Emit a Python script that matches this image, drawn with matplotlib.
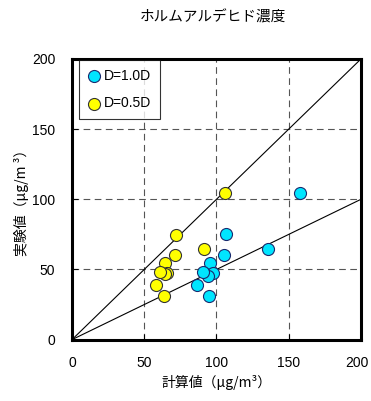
import numpy as np
import matplotlib
matplotlib.use("Agg")
import matplotlib.pyplot as plt
import matplotlib.transforms as mtransforms

plt.rcParams['font.family'] = ['Liberation Sans', 'Noto Sans CJK JP', 'DejaVu Sans']

# calculated vs measured concentration
calc_10 = [157.7, 135.8, 106.5, 105.0, 95.4, 97.7, 94.2, 90.8, 86.8, 94.5]
meas_10 = [104.8, 64.8, 75.0, 60.2, 54.3, 47.6, 45.2, 48.3, 39.0, 31.0]
calc_05 = [106.2, 71.8, 71.1, 91.2, 64.2, 65.8, 64.4, 61.2, 58.4, 63.5]
meas_05 = [104.3, 74.5, 60.2, 64.5, 54.3, 47.6, 46.7, 48.3, 39.0, 31.0]

ticks = [0, 50, 100, 150, 200]

fig = plt.figure(figsize=(3.71, 4.01), dpi=100)
ax = fig.add_axes([0.194, 0.153, 0.779, 0.700])

# reference lines y=x and y=x/2
xl = np.array([0, 200])
ax.plot(xl, xl, color='black', lw=0.8, zorder=2)
ax.plot(xl, xl * 0.5, color='black', lw=0.8, zorder=2)

ax.scatter(calc_10, meas_10, s=75, c='#00e5ff', edgecolors='#1a2a6e', linewidths=0.8,
           label='D=1.0D', zorder=3)
ax.scatter(calc_05, meas_05, s=75, c='#ffff00', edgecolors='#333333', linewidths=0.8,
           label='D=0.5D', zorder=3)

ax.set_xlim(0, 200)
ax.set_ylim(0, 200)
ax.set_xticks(ticks)
ax.set_yticks(ticks)
ax.grid(True, color='#555555', linestyle=(0, (6, 4)), lw=0.8)
ax.tick_params(direction='in', length=4, labelsize=10, pad=12)
for sp in ax.spines.values():
    sp.set_linewidth(2.2)

# last x tick label sits right at the figure edge, nudge it in a little
last = ax.get_xticklabels()[-1]
last.set_transform(last.get_transform() +
                   mtransforms.ScaledTranslation(-3 / 72, 0, fig.dpi_scale_trans))

leg = ax.legend(loc='upper left', fontsize=10, frameon=True, fancybox=False,
                edgecolor='black', handletextpad=0.2, borderpad=0.6,
                labelspacing=1.0, handlelength=1.0, bbox_to_anchor=(0.0, 1.02))
leg.get_frame().set_linewidth(0.8)

cjk = ['Noto Sans CJK JP', 'DejaVu Sans']
fig.text(0.575, 0.957, 'ホルムアルデヒド濃度', ha='center', va='center', fontsize=10.5, family=cjk)
ax.set_xlabel('計算値（μg/m³）', fontsize=10, family=cjk, labelpad=3)
ax.set_ylabel('実験値（μg/m ³）', fontsize=10, family=cjk, labelpad=2)

fig.savefig('out.png', dpi=100)
